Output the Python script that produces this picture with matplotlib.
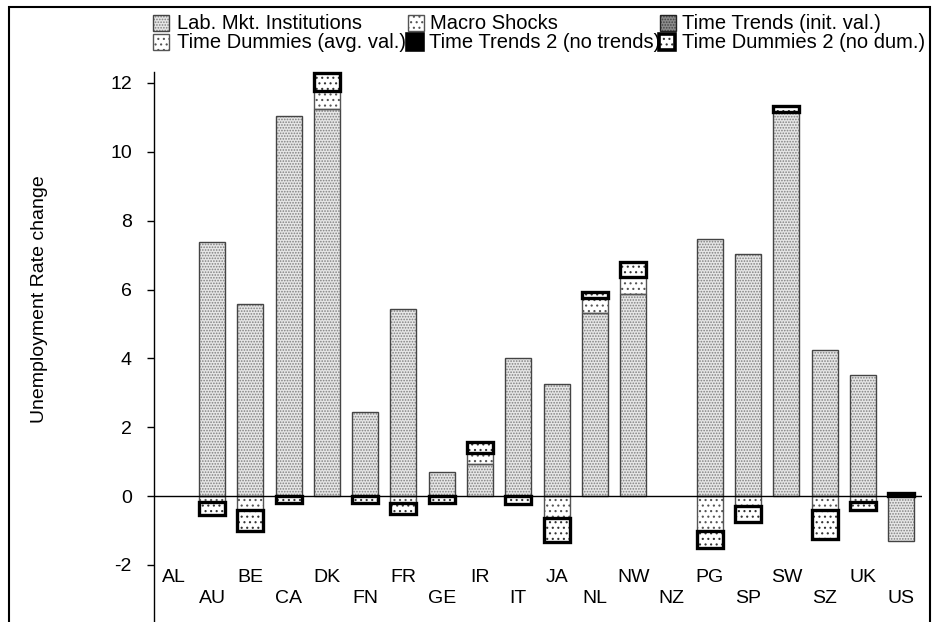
# coding: utf-8
import numpy as np
import matplotlib.pyplot as plt
from matplotlib.patches import Rectangle
from matplotlib.transforms import blended_transform_factory

plt.rcParams['font.family'] = ['Liberation Sans', 'DejaVu Sans']
plt.rcParams['hatch.linewidth'] = 0.8
plt.rcParams['axes.unicode_minus'] = False

countries = ['AL', 'AU', 'BE', 'CA', 'DK', 'FN', 'FR', 'GE', 'IR', 'IT',
             'JA', 'NL', 'NW', 'NZ', 'PG', 'SP', 'SW', 'SZ', 'UK', 'US']
lab_mkt = [0, 7.39, 5.57, 11.05, 11.24, 2.44, 5.44, 0.69, 0.93, 4.02,
           3.26, 5.31, 5.87, 0, 7.47, 7.03, 11.15, 4.24, 3.52, -1.30]
macro = [0, -0.17, -0.41, 0, 0.54, 0, -0.21, 0, 0.33, 0,
         -0.65, 0.44, 0.50, 0, -1.01, -0.29, 0, -0.39, -0.17, 0]
trends_init = [0] * 20
dummies_avg = [0] * 20
trends2 = [0, 0, 0, -0.20, 0, -0.19, 0, -0.21, 0, -0.24,
           0, 0.17, 0, 0, 0, 0, 0.17, 0, 0, 0.08]
dummies2 = [0, -0.38, -0.61, 0, 0.52, 0, -0.32, 0, 0.30, 0,
            -0.68, 0, 0.42, 0, -0.51, -0.46, 0, -0.87, -0.22, 0]

labels = ['Lab. Mkt. Institutions', 'Macro Shocks', 'Time Trends (init. val.)',
          'Time Dummies (avg. val.)', 'Time Trends 2 (no trends)', 'Time Dummies 2 (no dum.)']
# face, hatch, hatch colour, edge colour, edge width
styles = [
    ('#e6e6e6', '......', '#808080', '#444444', 1.0),
    ('white', '...', '#555555', '#555555', 1.0),
    ('#8c8c8c', '......', '#444444', '#222222', 1.0),
    ('white', '...', '#555555', '#555555', 1.0),
    ('white', '...', '#333333', 'black', 2.4),
    ('white', '...', '#333333', 'black', 2.4),
]
data = [lab_mkt, macro, trends_init, dummies_avg, trends2, dummies2]

fig = plt.figure(figsize=(9.33, 6.22), dpi=100)
ax = fig.add_axes([154 / 933, 0, 768 / 933, 550 / 622])

x = np.arange(len(countries))
pos = np.zeros(len(countries))
neg = np.zeros(len(countries))
w = 0.68
for vals, st in zip(data, styles):
    v = np.array(vals, dtype=float)
    bottom = np.where(v >= 0, pos, neg)
    m = v != 0
    face, hatch, hcol, ecol, lw = st
    ax.bar(x[m], v[m], w, bottom=bottom[m], color=face, hatch=hatch,
           edgecolor=hcol, linewidth=0, zorder=2)
    ax.bar(x[m], v[m], w, bottom=bottom[m], fill=False, edgecolor=ecol,
           linewidth=lw, zorder=3, clip_on=False)
    pos += np.where(v > 0, v, 0)
    neg += np.where(v < 0, v, 0)

ax.axhline(0, color='black', lw=1, zorder=4)
ax.set_xlim(-0.514, 19.54)
ax.set_ylim(-3.657, 12.318)
ax.set_yticks(range(-2, 13, 2))
ax.set_xticks([])
ax.tick_params(axis='y', direction='out', length=5, width=1, labelsize=14, pad=11)
for s in ['top', 'right', 'bottom']:
    ax.spines[s].set_visible(False)
ax.spines['left'].set_linewidth(1)
ax.patch.set_visible(False)

tr = blended_transform_factory(ax.transData, ax.transAxes)
for i, c in enumerate(countries):
    yy = (622 - 582) / 550 if i % 2 == 0 else (622 - 603) / 550
    ax.text(i, yy, c, transform=tr, ha='center', va='baseline', fontsize=14)

fig.text(40 / 933, 1 - 299 / 622, 'Unemployment Rate change', rotation=90,
         ha='center', va='center', fontsize=14)

# figure frame
frame = Rectangle((9 / 933, -0.05), 921 / 933, 1.05 - 7 / 622,
                  transform=fig.transFigure, fill=False,
                  edgecolor='black', lw=1.5, zorder=8)
fig.add_artist(frame)

# legend laid out by hand, 3 columns x 2 rows (marker x, marker top, text x, baseline)
leg_pos = [(153, 15, 177, 29), (408, 15, 430, 29), (660, 15, 682, 29),
           (153, 34, 177, 48), (407, 34, 429, 48), (659, 34, 682, 48)]
for k, lab in enumerate(labels):
    mx, my, tx, ty = leg_pos[k]
    t = fig.text(tx / 933, 1 - ty / 622, lab, ha='left', va='baseline',
                 fontsize=14.5, zorder=1)
    t.set_clip_path(frame)
for k, st in enumerate(styles):
    mx, my, tx, ty = leg_pos[k]
    face, hatch, hcol, ecol, lw = st
    if k == 4:
        face, hatch = 'black', None
    r1 = Rectangle((mx / 933, 1 - (my + 16) / 622), 16 / 933, 16 / 622,
                   transform=fig.transFigure, facecolor=face, hatch=hatch,
                   edgecolor=hcol, linewidth=0, zorder=5)
    r2 = Rectangle((mx / 933, 1 - (my + 16) / 622), 16 / 933, 16 / 622,
                   transform=fig.transFigure, fill=False, edgecolor=ecol,
                   linewidth=lw if lw < 2 else 2.6, zorder=6)
    fig.add_artist(r1)
    fig.add_artist(r2)

plt.savefig('out.png', dpi=100)
